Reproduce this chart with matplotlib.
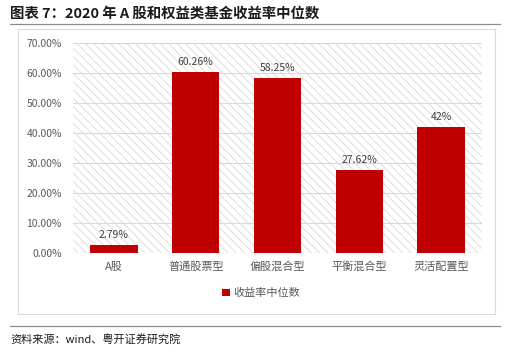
import matplotlib.pyplot as plt
from matplotlib.patches import Rectangle
from matplotlib.lines import Line2D

plt.rcParams['font.family'] = ['Noto Sans CJK SC', 'DejaVu Sans']
plt.rcParams['hatch.linewidth'] = 0.6
plt.rcParams['hatch.color'] = '#d9d9d9'

categories = ['A股', '普通股票型', '偏股混合型', '平衡混合型', '灵活配置型']
values = [2.79, 60.26, 58.25, 27.62, 42.0]
labels = ['2.79%', '60.26%', '58.25%', '27.62%', '42%']
yticks = [0, 10, 20, 30, 40, 50, 60, 70]

W, H = 513, 353
fig = plt.figure(figsize=(W / 100, H / 100), dpi=100)

def fx(px):
    return px / W

def fy(py):
    return 1 - py / H

# title and rules
fig.text(fx(10), fy(14), '图表 7：2020 年 A 股和权益类基金收益率中位数',
         fontsize=10.4, fontweight='bold', color='#1a1a1a', va='center', ha='left')
fig.add_artist(Line2D([fx(10), fx(500)], [fy(24), fy(24)], color='#8c8c8c', lw=0.9))
fig.add_artist(Rectangle((fx(18), fy(314)), fx(495) - fx(18), fy(29) - fy(314),
                         fill=False, edgecolor='#d9d9d9', lw=0.8))
fig.add_artist(Line2D([fx(10), fx(500)], [fy(326), fy(326)], color='#8c8c8c', lw=0.9))
fig.text(fx(10), fy(339), '资料来源：wind、粤开证券研究院', fontsize=8, style='italic',
         color='#1a1a1a', va='center', ha='left')

ax = fig.add_axes([fx(73), fy(253), fx(482) - fx(73), fy(43) - fy(253)])
ax.set_xlim(-0.5, len(categories) - 0.5)
ax.set_ylim(0, 70)

# hatched plot background
ax.add_patch(Rectangle((0, 0), 1, 1, transform=ax.transAxes, facecolor='white',
                       hatch='\\\\\\\\', edgecolor='#d9d9d9', lw=0, zorder=0))
for t in yticks:
    ax.axhline(t, color='#d9d9d9', lw=0.8, zorder=1)

x = range(len(categories))
ax.bar(x, values, width=0.58, color='#c00000', zorder=3, label='收益率中位数')
for i, v in enumerate(values):
    ax.text(i, v + 1.6, labels[i], ha='center', va='bottom', fontsize=7.5, color='#404040')

ax.set_yticks(yticks)
ax.set_yticklabels(['%.2f%%' % t for t in yticks], fontsize=7.5, color='#595959')
ax.set_xticks(list(x))
ax.set_xticklabels(categories, fontsize=8, color='#595959')
ax.tick_params(length=0, pad=6)
ax.tick_params(axis='y', pad=8)
for s in ax.spines.values():
    s.set_visible(False)

leg = ax.legend(loc='upper center', bbox_to_anchor=(0.46, -0.12), frameon=False,
                fontsize=8, handlelength=0.7, handleheight=0.7, handletextpad=0.3)
for t in leg.get_texts():
    t.set_color('#595959')

fig.savefig('out.png', dpi=100)
